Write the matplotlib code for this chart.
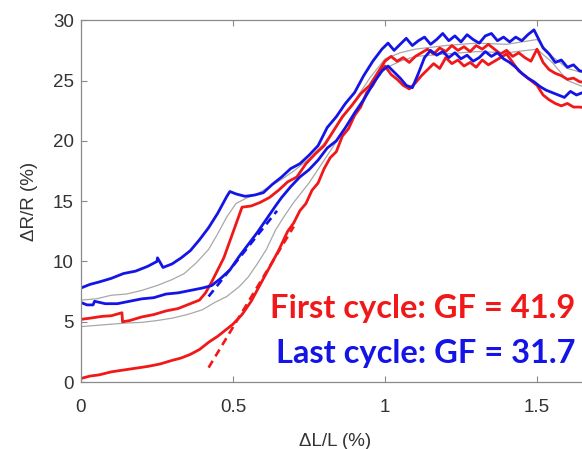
import matplotlib
matplotlib.use("Agg")
import matplotlib.pyplot as plt

# first cycle, loading (starts near 0)
red_load_x = [0, .03, .06, .10, .14, .18, .22, .26, .30, .33, .36, .39, .42, .45, .48, .50,
              .53, .56, .59, .62, .65, .68, .70, .72, .74, .76, .78, .80, .82, .84, .86, .88,
              .90, .92, .94, .96, .98,
              1.00, 1.02, 1.04, 1.06, 1.08, 1.10, 1.12, 1.14, 1.16, 1.18, 1.20, 1.22, 1.24,
              1.26, 1.28, 1.30, 1.32, 1.34, 1.36, 1.38, 1.40, 1.42, 1.44, 1.46, 1.48, 1.50,
              1.52, 1.54, 1.56, 1.58, 1.60, 1.62, 1.64, 1.67]
red_load_y = [0.3, 0.5, 0.6, 0.85, 1.0, 1.15, 1.3, 1.5, 1.8, 2.0, 2.3, 2.7, 3.3, 3.8, 4.4, 4.8,
              5.6, 6.7, 8.1, 9.5, 10.9, 12.5, 13.2, 14.2, 14.8, 15.9, 16.5, 17.7, 18.6, 19.1, 20.4, 21.0,
              22.1, 22.8, 24.0, 24.6, 25.6,
              26.2, 25.5, 25.1, 24.6, 24.3, 24.8, 25.4, 25.9, 26.4, 26.0, 26.9, 26.4, 26.7,
              26.2, 26.5, 26.1, 26.7, 26.3, 26.6, 26.9, 27.2, 26.5, 25.8, 25.4, 25.0, 24.6,
              23.8, 23.4, 23.1, 22.9, 23.1, 22.8, 22.8, 22.7]

# first cycle, unloading (ends near 5)
red_unload_x = [0, .03, .07, .10, .135, .137, .16, .20, .24, .28, .32, .36, .39, .41, .43, .45,
                .47, .49, .51, .53, .56, .59, .62, .65, .68, .71, .74, .77, .80, .83, .86, .89,
                .92, .95,
                .98, 1.00, 1.02, 1.04, 1.06, 1.08, 1.10, 1.12, 1.14, 1.16, 1.18, 1.20, 1.22,
                1.24, 1.26, 1.28, 1.30, 1.32, 1.34, 1.36, 1.38, 1.40, 1.42, 1.44, 1.46, 1.48,
                1.50, 1.52, 1.54, 1.56, 1.58, 1.60, 1.62, 1.64, 1.67]
red_unload_y = [5.2, 5.3, 5.45, 5.5, 5.75, 5.0, 5.1, 5.4, 5.6, 5.9, 6.1, 6.5, 6.8, 7.4, 8.3, 9.3,
                10.3, 11.7, 13.1, 14.5, 14.6, 14.9, 15.3, 15.9, 16.6, 17.0, 18.1, 18.9, 19.6, 20.8, 22.0, 22.9,
                23.9, 24.6,
                25.8, 26.6, 27.0, 26.6, 26.9, 26.5, 27.0, 27.3, 27.6, 27.2, 27.7, 27.4, 27.9,
                27.5, 27.8, 27.4, 27.9, 27.6, 28.0, 27.6, 27.2, 27.5, 27.0, 27.3, 26.9, 26.6,
                27.6, 26.5, 25.9, 25.6, 25.4, 25.1, 25.2, 24.9, 24.8]

# last cycle, loading
blue_load_x = [0, .02, .04, .045, .08, .12, .16, .20, .24, .28, .32, .36, .40, .43, .46, .49,
               .52, .55, .58, .61, .64, .66, .69, .72, .75, .78, .81, .84, .87, .90, .93, .96,
               .99, 1.01, 1.03, 1.05, 1.07, 1.09, 1.11, 1.13, 1.15, 1.17, 1.19, 1.21, 1.23,
               1.25, 1.27, 1.29, 1.31, 1.33, 1.35, 1.37, 1.39, 1.41, 1.43, 1.45, 1.47, 1.49,
               1.51, 1.53, 1.55, 1.57, 1.59, 1.61, 1.63, 1.65, 1.67]
blue_load_y = [6.6, 6.4, 6.4, 6.7, 6.5, 6.5, 6.7, 6.9, 7.0, 7.3, 7.4, 7.6, 7.8, 8.0, 8.6, 9.3,
               10.4, 11.4, 12.4, 13.5, 14.6, 15.3, 16.2, 17.0, 17.6, 18.4, 19.4, 20.0, 21.1, 22.3, 23.4, 24.7,
               25.8, 26.2, 25.7, 25.2, 24.6, 24.4, 25.6, 26.9, 27.5, 27.1, 27.4, 26.9, 27.3,
               26.8, 27.1, 26.6, 26.9, 27.4, 27.0, 27.3, 26.8, 26.5, 26.1, 25.6, 25.2, 24.9,
               24.5, 24.2, 24.0, 23.8, 23.6, 24.1, 23.8, 24.0, 24.0]

# last cycle, unloading
blue_unload_x = [0, .03, .06, .10, .14, .18, .22, .25, .252, .27, .30, .33, .36, .39, .42, .45,
                 .48, .49, .51, .54, .57, .60, .63, .66, .69, .72, .75, .78, .81, .84, .87, .90,
                 .93, .96,
                 .99, 1.01, 1.03, 1.05, 1.07, 1.09, 1.11, 1.13, 1.15, 1.17, 1.19, 1.21, 1.23,
                 1.25, 1.27, 1.29, 1.31, 1.33, 1.35, 1.37, 1.39, 1.41, 1.43, 1.45, 1.47, 1.49,
                 1.50, 1.52, 1.54, 1.56, 1.58, 1.60, 1.62, 1.64, 1.67]
blue_unload_y = [7.8, 8.1, 8.3, 8.6, 9.0, 9.2, 9.6, 10.0, 10.3, 9.5, 9.8, 10.3, 10.9, 11.8, 12.8, 14.0,
                 15.4, 15.8, 15.6, 15.4, 15.5, 15.7, 16.4, 17.0, 17.7, 18.1, 18.8, 19.6, 21.1, 22.0, 23.1, 24.0,
                 25.4, 26.6,
                 27.6, 28.1, 27.5, 28.0, 28.5, 27.9, 28.3, 28.6, 28.0, 28.4, 28.9, 28.3, 28.7,
                 28.2, 28.8, 28.4, 28.1, 28.7, 28.9, 28.3, 28.6, 28.2, 28.6, 28.3, 28.8, 29.2,
                 28.7, 27.7, 27.2, 26.5, 26.7, 26.1, 26.3, 25.8, 25.7]

# intermediate cycles (thin gray)
gray_upper_x = [0, .05, .10, .15, .20, .25, .30, .34, .38, .42, .45, .48, .51, .54, .58, .62, .66,
                .70, .75, .80, .85, .90, .95, 1.0, 1.05, 1.1, 1.2, 1.3, 1.4, 1.5, 1.55, 1.6, 1.67]
gray_upper_y = [6.8, 6.9, 7.2, 7.3, 7.6, 8.0, 8.5, 9.0, 9.9, 11.0, 12.3, 13.7, 14.8, 15.2, 15.6, 16.2, 16.8,
                17.5, 18.5, 19.8, 21.5, 23.3, 25.2, 26.8, 27.3, 27.6, 27.9, 28.1, 28.0, 28.4, 27.0, 26.0, 25.5]
gray_lower_x = [0, .05, .10, .15, .20, .25, .30, .35, .40, .44, .48, .52, .55, .58, .61, .64, .67,
                .70, .75, .80, .85, .90, .95, 1.0, 1.05, 1.1, 1.2, 1.3, 1.4, 1.5, 1.55, 1.6, 1.67]
gray_lower_y = [4.6, 4.7, 4.8, 4.9, 4.95, 5.1, 5.3, 5.6, 6.0, 6.6, 7.1, 7.9, 8.7, 9.8, 11.0, 12.6, 13.8,
                14.9, 16.5, 18.4, 20.3, 22.4, 24.3, 26.0, 26.6, 27.0, 27.2, 27.4, 27.3, 27.6, 26.5, 25.0, 24.3]

# linear fits
red_fit_x = [0.42, 0.70]
red_fit_y = [1.2, 12.9]
blue_fit_x = [0.42, 0.645]
blue_fit_y = [7.1, 14.2]

RED = '#f01818'
BLUE = '#1414e6'

fig = plt.figure(figsize=(5.82, 4.49), dpi=100)
ax = fig.add_axes([0.139, 0.149, 0.8725, 0.806])

ax.plot(gray_upper_x, gray_upper_y, color='#a8a8a8', lw=0.9)
ax.plot(gray_lower_x, gray_lower_y, color='#a8a8a8', lw=0.9)
ax.plot(red_fit_x, red_fit_y, color=RED, lw=1.9, ls=(0, (3, 2)))
ax.plot(blue_fit_x, blue_fit_y, color=BLUE, lw=1.9, ls=(0, (3, 2)))
ax.plot(red_load_x, red_load_y, color=RED, lw=2.0)
ax.plot(red_unload_x, red_unload_y, color=RED, lw=2.0)
ax.plot(blue_load_x, blue_load_y, color=BLUE, lw=2.0)
ax.plot(blue_unload_x, blue_unload_y, color=BLUE, lw=2.0)

ax.set_xlim(0, 1.67)
ax.set_ylim(0, 30)
ax.set_xticks([0, 0.5, 1, 1.5])
ax.set_xticklabels(['0', '0.5', '1', '1.5'])
ax.set_yticks([0, 5, 10, 15, 20, 25, 30])

for s in ax.spines.values():
    s.set_color('#8a8a8a')
    s.set_linewidth(0.9)
ax.spines['right'].set_visible(False)

ax.tick_params(direction='in', length=4, color='#8a8a8a', top=True,
               labelsize=13.5, labelcolor='#333333')
ax.tick_params(axis='x', pad=12)
ax.tick_params(axis='y', pad=5)
for lab in ax.get_xticklabels() + ax.get_yticklabels():
    lab.set_family('Liberation Sans')

ax.set_xlabel('ΔL/L (%)', fontsize=13.5, color='#333333', family='Liberation Sans')
ax.set_ylabel('ΔR/R (%)', fontsize=13.5, color='#333333', family='Liberation Sans')
ax.xaxis.set_label_coords(0.5, -0.14)
ax.yaxis.set_label_coords(-0.085, 0.5)

ax.text(1.625, 6.1, 'First cycle: GF = 41.9', color=RED, fontsize=23.5, fontweight='bold',
        family='Lato', ha='right', va='center')
ax.text(1.625, 2.4, 'Last cycle: GF = 31.7', color=BLUE, fontsize=23.5, fontweight='bold',
        family='Lato', ha='right', va='center')

fig.savefig('out.png', dpi=100)
